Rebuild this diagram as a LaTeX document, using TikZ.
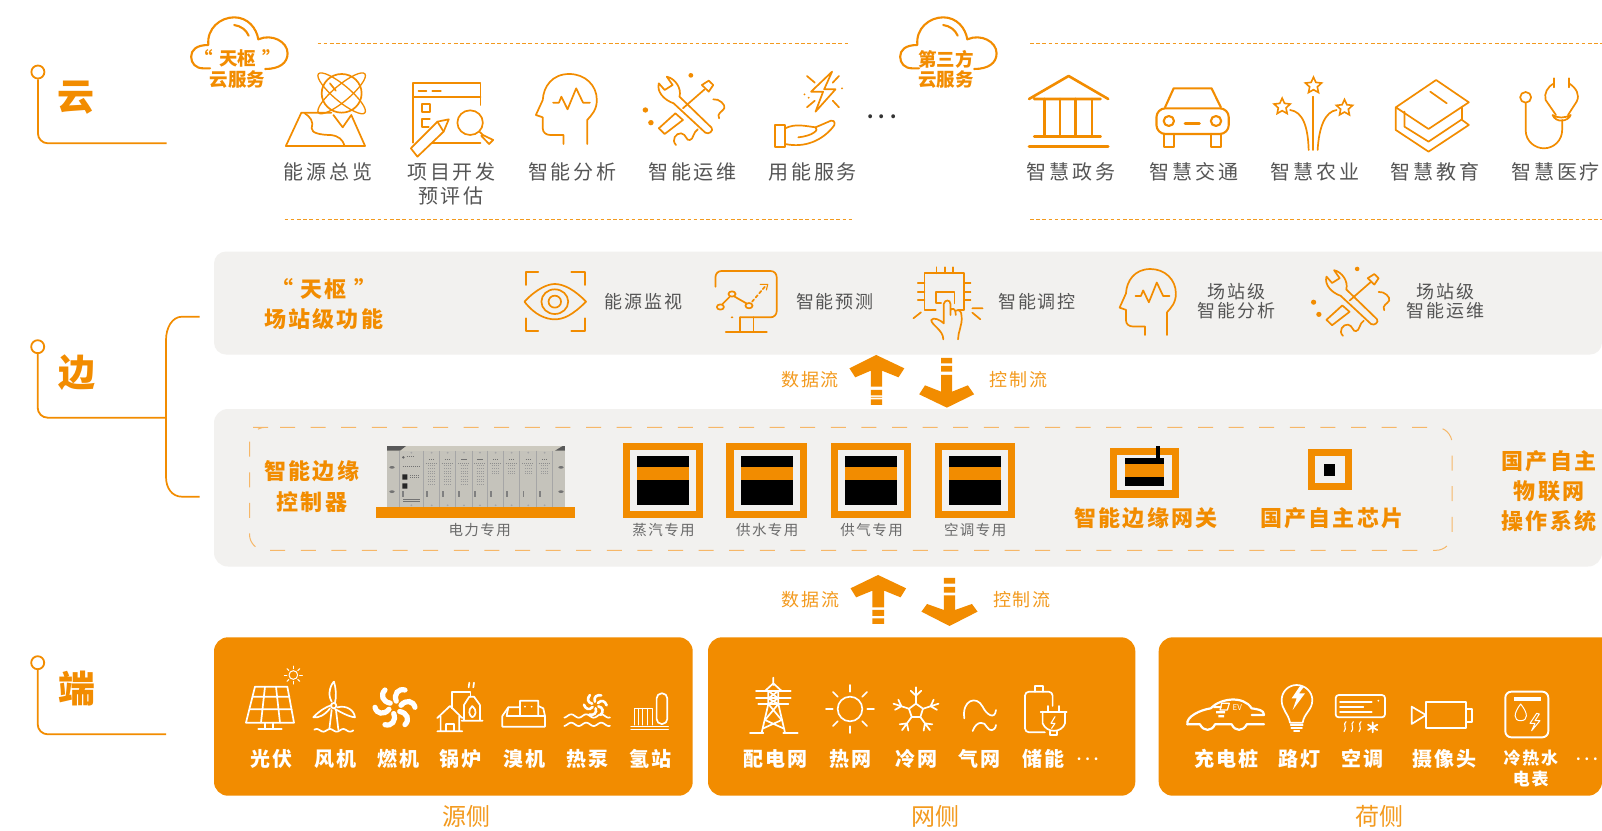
\documentclass[tikz,border=0pt]{standalone}
\usepackage{fontspec}
\usetikzlibrary{shapes.geometric}
\setmainfont{Noto Sans CJK SC}
\newfontfamily\cn[LetterSpace=14]{Noto Sans CJK SC}
\newfontfamily\cnw[LetterSpace=10]{Noto Sans CJK SC}
\newfontfamily\cnd[LetterSpace=30]{Noto Sans CJK SC}
\newfontfamily\cnt{Noto Sans CJK SC}
\definecolor{or}{HTML}{F28C00}
\definecolor{orl}{HTML}{F39A1E}
\definecolor{pan}{HTML}{F2F1EF}
\definecolor{gt}{HTML}{555555}
\definecolor{gs}{HTML}{6A6A6A}
\definecolor{dsh}{HTML}{F6B768}
\definecolor{devb}{HTML}{C5C3BB}
\definecolor{devt}{HTML}{CDCABF}
\tikzset{
 zm/.style n args={4}{shift={(#1pt,-#2pt)},x=#3pt,y=-#4pt},
 ic/.style={draw=or,line width=1.7pt,line cap=round,line join=round},
 icc/.style={draw=or,line width=2.1pt,line cap=round,line join=round},
 icb/.style={draw=or,line width=2.6pt,line cap=round,line join=round},
 icw/.style={draw=white,line width=1.7pt,line cap=round,line join=round},
 txt/.style={inner sep=0pt,align=center},
 trim14/.style={execute at end node={\kern-.14em}},
 trim10/.style={execute at end node={\kern-.10em}},
 lab/.style={txt,trim14,text=gt,font=\cn\fontsize{20}{20}\selectfont},
 lab2/.style={txt,trim10,text=gt,font=\cnw\fontsize{18}{18}\selectfont},
 lab3/.style={txt,trim10,text=gs,font=\cnw\fontsize{14.5}{14.5}\selectfont},
 flow/.style={txt,trim10,text=orl,font=\cnw\fontsize{18}{18}\selectfont},
 head/.style={txt,trim10,text=or,font=\cnw\bfseries\fontsize{22}{22}\selectfont},
 cl/.style={txt,text=or,font=\cnt\bfseries\fontsize{18.5}{19}\selectfont},
 tier/.style={txt,text=or,font=\cnt\bfseries\fontsize{37}{37}\selectfont},
 wl/.style={txt,trim10,text=white,font=\cnw\bfseries\fontsize{20}{20}\selectfont},
 wls/.style={txt,trim10,text=white,font=\cnw\bfseries\fontsize{17}{17}\selectfont},
 side/.style={txt,text=orl,font=\cnt\fontsize{24}{24}\selectfont},
 dots/.style={txt,text=white,font=\cnd\bfseries\fontsize{13}{13}\selectfont,execute at end node={\kern-.3em}},
 dotsk/.style={txt,text=black!80,font=\cnd\bfseries\fontsize{18}{18}\selectfont,execute at end node={\kern-.3em}},
 dot/.style={circle,draw=or,line width=1.8pt,minimum size=13pt,inner sep=0pt},
 tline/.style={draw=or,line width=1.8pt,rounded corners=10pt},
 toprule/.style={draw=orl,line width=1pt,dash pattern=on 3.6pt off 2.6pt},
 starn/.style={star,star points=5,star point ratio=2.1,draw=or,line width=1.6pt,minimum size=17pt,inner sep=0pt}
}
\newcommand{\cloudicon}{%
 \draw[icc] (610,205) -- (590,205) .. controls (568,205) and (555,190) .. (555,170) .. controls (555,150) and (570,135) .. (605,135) .. controls (600,85) and (640,52) .. (680,52) .. controls (720,52) and (745,85) .. (750,118) .. controls (790,100) and (835,125) .. (835,160) .. controls (835,190) and (810,207) .. (770,207);
 \draw[icc] (680,75) .. controls (700,78) and (715,90) .. (722,107);
}
\newcommand{\headicon}{%
 \draw[ic] (137,432) -- (137,360) .. controls (150,345) and (165,330) .. (165,300) .. controls (165,255) and (130,222) .. (85,222) .. controls (35,222) and (10,260) .. (8,300) -- (-12,345) -- (8,352) -- (8,385) .. controls (8,398) and (18,405) .. (30,405) -- (68,405) -- (68,432);
 \draw[ic] (38,308) -- (55,308) -- (62,290) -- (80,328) -- (105,265) -- (125,308) -- (145,308);
}
\newcommand{\wrenchicon}{%
 \draw[ic] (388,310) -- (480,398) .. controls (490,405) and (505,392) .. (498,383) -- (405,290) .. controls (412,265) and (392,235) .. (368,230) -- (385,255) -- (362,270) -- (345,250) .. controls (338,275) and (360,300) .. (388,310);
 \draw[ic] (470,255) -- (490,242) -- (503,255) -- (490,275) -- cycle;
 \draw[ic] (478,268) -- (415,325);
 \draw[ic] (345,385) -- (393,340) -- (415,360) -- (362,402) -- cycle;
 \fill[or] (438,226) circle [radius=7] (306,330) circle [radius=8] (322,368) circle [radius=8];
 \draw[ic] (503,298) .. controls (520,295) and (540,315) .. (535,325) .. controls (530,335) and (512,340) .. (520,355);
 \draw[ic] (395,435) .. controls (380,420) and (395,398) .. (410,400) .. controls (425,402) and (425,425) .. (435,420) .. controls (445,420) and (445,395) .. (458,388);
}
\begin{document}
\begin{tikzpicture}[x=1pt,y=-1pt]
\useasboundingbox (0,0) rectangle (1602,830);
\fill[white] (0,0) rectangle (1602,830);
% panels
\fill[pan,rounded corners=12pt] (1602,251.5) -- (214,251.5) -- (214,354.5) -- (1602,354.5) [sharp corners] -- cycle;
\fill[pan,rounded corners=14pt] (1602,409) -- (214,409) -- (214,566.5) -- (1602,566.5) [sharp corners] -- cycle;
\fill[or,rounded corners=14pt] (214,637.3) rectangle (692.7,795.7);
\fill[or,rounded corners=14pt] (708,637.3) rectangle (1135.3,795.7);
\fill[or,rounded corners=14pt] (1602,637.3) -- (1158.7,637.3) -- (1158.7,795.7) -- (1602,795.7) [sharp corners] -- cycle;
% dashed rules
\draw[toprule] (317.5,43.4) -- (850,43.4);
\draw[toprule] (284.5,219.7) -- (853,219.7);
\draw[toprule] (1030,43.4) -- (1602,43.4);
\draw[toprule] (1030,219.7) -- (1602,219.7);
% dashed rounded frame
\draw[dsh,line width=1pt,dash pattern=on 15pt off 15.6pt,rounded corners=16pt] (264,427.3) -- (1452,427.3) -- (1452,550.3) -- (249.5,550.3) -- (249.5,427.3) -- cycle;
% tier markers
\node[dot] (dotyun) at (37.9,72) {};
\draw[tline] (dotyun.south) -- (37.9,143.3) -- (166.7,143.3);
\node[tier] (tyun) at (76.4,98) {云};
\node[dot] (dotbian) at (37.7,346.7) {};
\draw[tline] (dotbian.south) -- (37.7,417.7) -- (166,417.7);
\node[tier] (tbian) at (76.7,372.7) {边};
\node[dot] (dotduan) at (37.7,662.7) {};
\draw[tline] (dotduan.south) -- (37.7,734.3) -- (166,734.3);
\node[tier] (tduan) at (76.7,689) {端};
\draw[ic,line cap=butt] (199.5,316.7) -- (182,316.7) .. controls (172,316.7) and (166,328) .. (166,340) -- (166,477) .. controls (166,488) and (172,496.7) .. (182,496.7) -- (199.5,496.7);
% ---- Z1
\begin{scope}[zm={0}{0}{.3444}{.3333}]
 \cloudicon
 \node[cl] (c1a) at (690,176) {“\,\,天枢\,\,”};
 \node[cl] (c1b) at (690,240) {云服务};
 % map
 \draw[ic] (962,338) -- (875,338) -- (830,438) -- (1060,438) -- (1020,345) -- (995,382) -- (968,345);
 \draw[ic] (885,340) .. controls (900,350) and (912,365) .. (905,385) .. controls (903,400) and (935,405) .. (960,405) .. controls (985,408) and (995,420) .. (1000,436);
 \draw[ic] (992,280) circle [radius=58];
 \draw[ic,line width=1.3pt,rotate around={40:(992,280)}] (992,280) ellipse [x radius=88,y radius=24];
 \draw[ic,line width=1.3pt,rotate around={-40:(992,280)}] (992,280) ellipse [x radius=88,y radius=24];
 \draw[ic] (958,250) -- (975,272);
 \node[lab] (l1) at (948,517) {能源总览};
 % project
 \draw[ic] (1395,315) -- (1395,250) -- (1200,250) -- (1200,428);
 \draw[ic] (1200,292) -- (1395,292) (1255,428) -- (1395,428);
 \draw[ic] (1215,272) -- (1238,272) (1255,272) -- (1280,272);
 \draw[ic] (1225,312) rectangle (1248,335);
 \draw[ic] (1248,358) -- (1225,358) -- (1225,380) -- (1245,380);
 \draw[ic] (1365,368) circle [radius=37];
 \draw[ic] (1392,395) -- (1402,405) -- (1432,420) -- (1420,432) -- (1397,407);
 \draw[ic] (1303,358) -- (1270,365) -- (1193,445) -- (1212,470) -- (1288,395) -- cycle;
 \draw[ic] (1270,365) -- (1288,395);
 \node[lab] (l2a) at (1307,517) {项目开发};
 \node[lab] (l2b) at (1305,587) {预评估};
\end{scope}
% ---- Z2
\begin{scope}[zm={540}{0}{.3444}{.3333}]
 \headicon
 \node[lab] (l3) at (90,517) {智能分析};
 \wrenchicon
 \node[lab] (l4) at (439,517) {智能运维};
 \draw[ic] (848,215) -- (787,275) -- (822,275) -- (800,335) -- (858,268) -- (825,268) -- cycle;
 \draw[ic] (775,228) -- (798,248) (868,228) -- (850,248) (775,322) -- (798,302) (868,322) -- (850,302);
 \fill[or] (877,265) circle [radius=3] (768,283) circle [radius=3] (780,293) circle [radius=3];
 \draw[ic] (682,375) rectangle (712,440);
 \draw[ic] (712,385) .. controls (740,370) and (770,378) .. (800,382) .. controls (812,390) and (790,408) .. (750,412);
 \draw[ic] (800,382) -- (845,362) .. controls (858,360) and (858,375) .. (850,382) .. controls (820,420) and (770,445) .. (712,432);
 \node[lab] (l5) at (788,517) {用能服务};
 \node[dotsk] (more) at (985,350) {...};
\end{scope}
\begin{scope}[zm={709}{0}{.3444}{.3333}]
 \cloudicon
 \node[cl] (c2a) at (688,177) {第三方};
 \node[cl] (c2b) at (688,240) {云服务};
\end{scope}
% ---- Z3
\begin{scope}[zm={1060}{0}{.3444}{.3333}]
 \draw[icb] (-90,297) -- (25,228) -- (140,297) (-75,297) -- (118,297);
 \draw[icb] (-45,297) -- (-45,410) (0,297) -- (0,410) (45,297) -- (45,410) (93,297) -- (93,410);
 \draw[icb] (-75,410) -- (118,410) (-90,440) -- (140,440);
 \node[lab] (l6) at (28,517) {智慧政务};
 % car
 \draw[icc] (305,322) -- (330,265) -- (440,265) -- (467,322);
 \draw[icc,rounded corners=9pt] (280,325) rectangle (490,402);
 \draw[icc] (303,402) -- (303,440) -- (332,440) -- (332,402) (438,402) -- (438,440) -- (468,440) -- (468,402);
 \draw[icc] (316,363) circle [radius=15] (453,363) circle [radius=15];
 \draw[icb] (363,370) -- (405,370);
 \node[lab] (l7) at (385,517) {智慧交通};
 % fireworks
 \node[starn] (s1) at (736,257) {};
 \node[starn] (s2) at (645,320) {};
 \node[starn] (s3) at (826,324) {};
 \draw[ic] (735,290) -- (735,450);
 \draw[ic] (722,450) .. controls (720,380) and (705,335) .. (668,330);
 \draw[ic] (748,450) .. controls (752,380) and (770,335) .. (803,330);
 \node[lab] (l8) at (736,517) {智慧农业};
 % book
 \draw[ic] (975,322) -- (1092,240) -- (1187,307) -- (1070,387) -- cycle;
 \draw[ic] (975,322) -- (975,390) -- (1070,455) -- (1187,375) -- (1165,358);
 \draw[ic] (1000,335) -- (1000,380) -- (1070,425) -- (1167,358) -- (1167,322);
 \draw[ic] (1075,275) -- (1123,310);
 \node[lab] (l9) at (1085,517) {智慧教育};
 % stethoscope
 \draw[ic] (1352,292) circle [radius=16];
 \draw[ic] (1352,310) -- (1352,390) .. controls (1352,425) and (1380,445) .. (1405,445) .. controls (1435,445) and (1458,420) .. (1458,390) -- (1458,360);
 \draw[ic] (1435,235) -- (1435,262) (1478,235) -- (1478,262);
 \draw[ic] (1435,250) .. controls (1415,260) and (1405,280) .. (1410,300) -- (1440,345);
 \draw[ic] (1478,250) .. controls (1500,265) and (1510,285) .. (1500,305) -- (1475,345);
 \draw[ic] (1430,345) .. controls (1440,370) and (1475,365) .. (1483,345) .. controls (1465,355) and (1445,355) .. (1430,345);
 \node[lab] (l10) at (1435,517) {智慧医疗};
\end{scope}
% ---- Z4
\begin{scope}[zm={220}{240}{.4464}{.3333}]
 \node[head] (h1a) at (230,148) {“\,\,天枢\,\,”};
 \node[head] (h1b) at (230,238) {场站级功能};
 % eye
 \draw[ic] (685,135) -- (685,97) -- (713,97) (787,97) -- (817,97) -- (817,135) (685,235) -- (685,273) -- (713,273) (787,273) -- (817,273) -- (817,235);
 \draw[ic] (682,185) .. controls (710,145) and (735,132) .. (750,132) .. controls (770,132) and (795,150) .. (820,185) .. controls (790,225) and (770,238) .. (750,238) .. controls (730,238) and (705,225) .. (682,185) -- cycle;
 \draw[ic] (750,185) ellipse [x radius=30,y radius=37];
 \draw[ic] (750,185) ellipse [x radius=14,y radius=18];
 \node[lab2] (e1) at (947,185) {能源监视};
 % monitor
 \draw[ic,rounded corners=6pt] (1110,140) -- (1110,93) -- (1247,93) -- (1247,232) -- (1165,232);
 \draw[ic] (1165,232) -- (1165,275) (1195,232) -- (1195,275) (1133,275) -- (1225,275);
 \fill[or] (1147,232) circle [radius=3];
 \draw[ic] (1121,201) circle [radius=8] (1147,162) circle [radius=8] (1185,197) circle [radius=8];
 \draw[ic] (1125,193) -- (1142,170) (1153,170) -- (1179,190);
 \draw[ic,dash pattern=on 3pt off 2.5pt] (1192,185) -- (1222,138);
 \draw[ic,line width=1.1pt] (1210,133) -- (1227,133) -- (1224,150);
 \node[lab2] (e2) at (1375,185) {智能预测};
 % flows
 \fill[or] (1470,345) -- (1533,385) -- (1520,412) -- (1483,392) -- (1483,440) -- (1458,440) -- (1458,392) -- (1423,412) -- (1410,385) -- cycle;
 \fill[or] (1458,450) rectangle (1483,466) (1458,471) rectangle (1483,473) (1458,478) rectangle (1483,495);
 \node[flow] (f1) at (1320,420) {数据流};
\end{scope}
% ---- Z5
\begin{scope}[zm={900}{240}{.4464}{.3333}]
 % chip + hand
 \draw[ic] (80,210) -- (55,210) -- (55,100) -- (143,100) -- (143,210) -- (130,210);
 \draw[ic] (82,82) -- (82,100) (100,82) -- (100,100) (118,82) -- (118,100);
 \draw[ic] (40,130) -- (55,130) (40,155) -- (55,155) (40,180) -- (55,180) (143,130) -- (158,130) (143,155) -- (158,155) (143,180) -- (158,180);
 \draw[ic] (92,190) -- (80,190) -- (80,155) -- (122,155) -- (122,190);
 \draw[ic] (97,298) .. controls (97,270) and (70,255) .. (70,240) .. controls (75,230) and (90,240) .. (98,250) -- (98,192) .. controls (100,178) and (113,178) .. (113,192) -- (113,225) (113,210) .. controls (118,203) and (125,205) .. (125,225) (125,212) .. controls (132,208) and (138,212) .. (138,230) .. controls (140,255) and (130,275) .. (130,298);
 \draw[ic] (30,235) -- (47,217) (180,238) -- (162,218) (162,205) -- (185,205);
 \node[lab2] (e3) at (305,185) {智能调控};
 \node[lab2] (e4a) at (752,155) {场站级};
 \node[lab2] (e4b) at (752,213) {智能分析};
 \node[lab2] (e5a) at (1220,155) {场站级};
 \node[lab2] (e5b) at (1220,213) {智能运维};
 % flows
 \fill[or] (92,354) rectangle (117,370) (92,378) rectangle (117,395);
 \fill[or] (92,405) -- (117,405) -- (117,455) -- (152,436) -- (166,463) -- (105,503) -- (43,463) -- (56,436) -- (92,455) -- cycle;
 \node[flow] (f2) at (263,420) {控制流};
\end{scope}
\begin{scope}[zm={1212.6}{196.6}{.33}{.32}]
 \wrenchicon
\end{scope}
\begin{scope}[zm={1123.4}{199.3}{.318}{.314}]
 \headicon
\end{scope}
% ---- Z6
\begin{scope}[zm={220}{400}{.3827}{.3333}]
 \node[head] (h2a) at (237,215) {智能边缘};
 \node[head] (h2b) at (237,307) {控制器};
 \fill[or] (1052,128) rectangle (1262,354);
 \fill[pan] (1070,150) rectangle (1243,332);
 \fill[black] (1090,168) rectangle (1226,315);
 \fill[or] (1090,201) rectangle (1226,240);
 \fill[or] (1323,128) rectangle (1534,354);
 \fill[pan] (1342,150) rectangle (1516,332);
 \fill[black] (1362,168) rectangle (1497,315);
 \fill[or] (1362,201) rectangle (1497,240);
 \node[lab3] (u2) at (1157,390) {蒸汽专用};
 \node[lab3] (u3) at (1428,390) {供水专用};
\end{scope}
% ---- Z7
\begin{scope}[zm={800}{400}{.5102}{.3333}]
 \fill[or] (60,128) rectangle (218,354);
 \fill[pan] (74,150) rectangle (204,332);
 \fill[black] (88,168) rectangle (190,315);
 \fill[or] (88,201) rectangle (190,240);
 \fill[or] (264,128) rectangle (421,354);
 \fill[pan] (278,150) rectangle (407,332);
 \fill[black] (292,168) rectangle (394,315);
 \fill[or] (292,201) rectangle (394,240);
 \node[lab3] (u4) at (139,390) {供气专用};
 \node[lab3] (u5) at (342,390) {空调专用};
 \fill[or] (608,143) rectangle (743,293);
 \fill[pan] (622,165) rectangle (729,271);
 \fill[black] (637,174) rectangle (714,258);
 \fill[or] (637,192) rectangle (714,231);
 \fill[black] (698,138) rectangle (706,174);
 \node[head] (g1) at (676,355) {智能边缘网关};
 \fill[or] (996,148) rectangle (1082,271);
 \fill[pan] (1010,169) rectangle (1068,249);
 \fill[black] (1027,192) rectangle (1049,228);
 \node[head] (g2) at (1040,355) {国产自主芯片};
 \node[head] (os1) at (1466,185) {国产自主};
 \node[head] (os2) at (1466,273) {物联网};
 \node[head] (os3) at (1466,362) {操作系统};
 % flows
 \fill[or] (153,525) -- (208,565) -- (197,592) -- (165,572) -- (165,622) -- (142,622) -- (142,572) -- (110,592) -- (99,565) -- cycle;
 \fill[or] (142,630) rectangle (165,648) (142,655) rectangle (165,672);
 \fill[or] (282,534) rectangle (304,551) (282,561) rectangle (304,578);
 \fill[or] (282,586) -- (304,586) -- (304,630) -- (337,612) -- (348,635) -- (293,678) -- (238,635) -- (249,612) -- (282,630) -- cycle;
 \node[flow] (f4) at (433,600) {控制流};
 \node[flow] (f3) at (19,600) {数据流};
\end{scope}
% ---- device, Z11
\begin{scope}[zm={370}{430}{.3333}{.3333}]
 \fill[or] (18,232) rectangle (615,264);
 \fill[devb] (51,48) rectangle (585,232);
 \fill[devt] (51,48) rectangle (585,62);
 \fill[black!65] (51,48) -- (108,48) -- (90,62) -- (51,62) -- cycle;
 \fill[black!65] (555,62) -- (578,48) -- (585,48) -- (585,62) -- cycle;
 \foreach \xx in {88,160,209,257,306,353,401,449,500,548}
   \draw[black!35,line width=.8pt] (\xx,62) -- (\xx,232);
 \foreach \xx in {124,185,233,282,330,377,425,475,524}{
   \fill[black!35] (\xx,68) circle [radius=3] (\xx,226) circle [radius=3];
 }
 \foreach \xx in {185,233,282,330,377,425,475,524}{
   \draw[black!55,line width=.9pt,dash pattern=on 1.2pt off .8pt] (\xx-8,87) -- (\xx+8,87);
   \draw[black!45,line width=.7pt,dash pattern=on 1pt off 1pt] (\xx-18,100) -- (\xx+18,100);
   \fill[black!50] (\xx-17,184) rectangle (\xx-12,200);
 }
 \foreach \xx/\yend in {185/168,233/168,282/168,330/168,377/138,425/138,475/138,524/138}{
   \foreach \yy in {107,115,...,\yend}
     \draw[black!40,line width=.7pt,dash pattern=on 1pt off 1pt] (\xx-10,\yy) -- (\xx+12,\yy);
 }
 \fill[black!55] (66,112) ellipse [x radius=8,y radius=4] (66,185) ellipse [x radius=8,y radius=4] (573,112) ellipse [x radius=8,y radius=4] (573,185) ellipse [x radius=8,y radius=4];
 \fill[black!85] (97,133) rectangle (112,149) (97,160) rectangle (112,176);
 \fill[black!50] (96,184) rectangle (102,200);
 \draw[black!55,line width=.9pt,dash pattern=on 1.2pt off .8pt] (98,110) -- (150,110) (120,135) -- (150,135) (120,142) -- (150,142) (100,207) -- (150,207) (100,214) -- (150,214);
 \fill[black!60] (100,82) circle [radius=4];
 \draw[black!55,line width=.9pt,dash pattern=on 1.2pt off .8pt] (110,80) -- (130,80);
 \node[lab3] (u1) at (327,300) {电力专用};
\end{scope}
% ---- Z8
\begin{scope}[zm={200}{630}{.3333}{.3333}]
 \draw[icw] (165,170) -- (262,170) -- (282,278) -- (138,278) -- cycle;
 \draw[icw] (158,200) -- (268,200) (150,238) -- (275,238) (195,170) -- (183,278) (228,170) -- (240,278);
 \draw[icw] (195,278) -- (195,297) (220,278) -- (220,297) (175,297) -- (245,297);
 \draw[icw,line width=1pt] (280,135) circle [radius=13];
 \foreach \a in {0,45,...,315} \draw[icw,line width=1pt] (280,135) ++(\a:19) -- ++(\a:8);
 \draw[icw] (395,240) -- (388,298) (408,240) -- (415,298);
 \draw[icw] (401,227) circle [radius=8];
 \draw[icw] (395,215) .. controls (380,190) and (395,160) .. (402,155) .. controls (408,175) and (410,200) .. (405,218);
 \draw[icw] (412,232) .. controls (440,225) and (462,240) .. (465,262) .. controls (445,260) and (420,245) .. (405,237);
 \draw[icw] (390,235) .. controls (375,255) and (355,265) .. (340,262) .. controls (355,245) and (375,232) .. (395,225);
 \draw[icw] plot[domain=343:460,samples=40] (\x,{301+4*sin(9*\x)});
 \foreach \a in {0,60,...,300}
   \draw[white,line width=5.2pt,line cap=round,rotate around={\a:(585,232)}] (603,226) .. controls (618,208) and (640,212) .. (645,232);
 \draw[icw] (712,264) -- (750,228) -- (787,264) (722,258) -- (722,304) (778,258) -- (778,304) (712,304) -- (787,304) (738,304) -- (738,282) -- (762,282) -- (762,304);
 \draw[icw] (757,235) -- (757,187) -- (812,187) -- (812,200);
 \draw[icw] (792,272) -- (792,225) -- (808,200) -- (822,200) -- (840,225) -- (840,272) (785,272) -- (848,272);
 \draw[icw] (817,228) .. controls (802,240) and (808,258) .. (817,262) .. controls (828,258) and (832,240) .. (817,228);
 \draw[icw] (808,158) -- (806,172) (822,158) -- (820,172);
 \draw[icw] (907,290) -- (907,258) -- (925,232) -- (960,232) -- (960,212) -- (1015,212) -- (1015,228) -- (1030,235) -- (1035,258) -- (1035,290) -- cycle;
 \draw[icw] (925,232) -- (920,258) -- (1035,258) (960,232) -- (960,255) (1015,228) -- (1015,255);
 \fill[white] (975,230) circle [radius=3] (995,230) circle [radius=3];
 \foreach \a in {0,60,...,300}
   \draw[white,line width=2.6pt,line cap=round,rotate around={\a:(1186,225)}] (1194,219) .. controls (1204,208) and (1216,213) .. (1220,226);
 \draw[icw] plot[domain=1093:1230,samples=60] (\x,{258+5*sin(8*\x)});
 \draw[icw] plot[domain=1093:1230,samples=60] (\x,{283+5*sin(8*\x)});
 \draw[icw,rounded corners=5pt] (1370,282) -- (1370,190) -- (1402,190) -- (1402,282) -- cycle;
 \draw[icw,line width=1pt] (1303,285) -- (1303,235) -- (1357,235) -- (1357,285) (1315,235) -- (1315,285) (1328,235) -- (1328,285) (1342,235) -- (1342,285);
 \draw[icw,line width=1pt] (1293,288) -- (1405,288) (1293,297) -- (1405,297);
 \node[wl] (w1) at (212,387) {光伏};
 \node[wl] (w2) at (403,387) {风机};
 \node[wl] (w3) at (592,387) {燃机};
 \node[wl] (w4) at (780,387) {锅炉};
 \node[wl] (w5) at (971,387) {溴机};
 \node[wl] (w6) at (1160,387) {热泵};
 \node[wl] (w7) at (1348,387) {氢站};
 \node[side] (sd1) at (800,558) {源侧};
\end{scope}
% ---- Z9
\begin{scope}[zm={700}{630}{.3333}{.3333}]
 \draw[icw] (220,143) -- (220,165) (195,183) -- (220,160) -- (245,183);
 \draw[icw] (168,183) -- (272,183) (168,205) -- (272,205) (175,222) -- (265,222);
 \draw[icw] (205,183) -- (205,222) -- (185,308) (235,183) -- (235,222) -- (255,308);
 \draw[icw] (205,183) -- (235,205) (235,183) -- (205,205) (205,205) -- (235,222) (235,205) -- (205,222) (205,222) -- (245,270) -- (190,295) (235,222) -- (195,270) -- (250,295);
 \draw[icw] (150,310) -- (190,310) (250,310) -- (293,310);
 \draw[icw] (450,237) circle [radius=37];
 \foreach \a in {0,45,...,315} \draw[icw] (450,237) ++(\a:52) -- ++(\a:20);
 \foreach \a in {0,72,...,288}{
   \draw[icw,rotate around={\a:(648,243)}] (648,221) -- (669,236) (648,221) -- (648,172) (648,197) -- (632,182) (648,197) -- (664,182);
 }
 \draw[icw] (793,265) .. controls (785,210) and (830,195) .. (848,230) .. controls (860,255) and (885,270) .. (888,240);
 \draw[icw] (818,303) .. controls (830,270) and (855,275) .. (860,290) .. controls (868,305) and (885,305) .. (888,285);
 \draw[icw,rounded corners=4pt] (1035,307) -- (975,307) -- (975,185) -- (1058,185) -- (1058,228);
 \draw[icw] (1005,185) -- (1005,168) -- (1030,168) -- (1030,185);
 \draw[icw] (1022,245) -- (1100,245) (1045,228) -- (1045,245) (1078,228) -- (1078,245);
 \draw[icw] (1028,245) -- (1028,280) .. controls (1040,310) and (1085,310) .. (1095,280) -- (1095,245);
 \draw[icw] (1050,305) -- (1050,315) -- (1072,315) -- (1072,305);
 \draw[icw,line width=1.1pt] (1065,260) -- (1053,280) -- (1065,280) -- (1055,295);
 \node[wl] (n1) at (222,387) {配电网};
 \node[wl] (n2) at (450,387) {热网};
 \node[wl] (n3) at (648,387) {冷网};
 \node[wl] (n4) at (837,387) {气网};
 \node[wl] (n5) at (1027,387) {储能};
 \node[dots] (n6) at (1157,388) {...};
 \node[side] (sd2) at (707,558) {网侧};
\end{scope}
% ---- Z10
\begin{scope}[zm={1150}{630}{.3333}{.3333}]
 \draw[white,line width=2.2pt,line cap=round,line join=round] (112,283) .. controls (108,260) and (150,240) .. (182,235) .. controls (210,205) and (280,195) .. (305,235) .. controls (325,238) and (342,240) .. (342,255) -- (305,255);
 \draw[white,line width=2.2pt,line cap=round,line join=round] (112,283) -- (150,283) .. controls (160,305) and (185,305) .. (195,283) -- (245,283) .. controls (255,305) and (280,305) .. (290,283) -- (342,283);
 \draw[icw,line width=1.2pt] (215,220) -- (238,220) -- (232,240) -- (210,240) -- cycle;
 \fill[white] (190,228) rectangle (215,234) (198,243) rectangle (225,250) (205,255) rectangle (222,262);
 \node[txt,text=white,font=\cnt\itshape\fontsize{8}{8}\selectfont] (ev) at (262,233) {EV};
 \draw[icw] (420,278) .. controls (415,250) and (395,240) .. (395,210) .. controls (395,185) and (415,165) .. (440,165) .. controls (465,165) and (487,185) .. (487,210) .. controls (487,240) and (462,250) .. (458,278) -- cycle;
 \fill[white] (450,168) -- (425,205) -- (440,205) -- (428,240) -- (465,190) -- (447,190) -- (462,170) -- cycle;
 \draw[icw] (422,285) -- (458,285) (424,293) -- (456,293) (432,302) -- (448,302);
 \draw[icw,rounded corners=3pt] (557,195) rectangle (705,262);
 \draw[icw] (570,215) -- (665,215) (570,230) -- (640,230) (570,245) -- (665,245);
 \fill[white] (685,212) circle [radius=3];
 \foreach \xx in {585,607,630}
   \draw[icw,line width=1.1pt] (\xx+3,275) .. controls (\xx-8,282) and (\xx+8,295) .. (\xx-3,305);
 \draw[icw] (668,277) -- (668,307) (654,284) -- (682,300) (654,300) -- (682,284);
 \draw[icw] (785,230) -- (828,255) -- (785,282) -- cycle;
 \draw[icw] (828,217) rectangle (948,294);
 \draw[icw] (948,237) rectangle (967,275);
 \draw[icw,line width=1.9pt,rounded corners=6pt] (1066,185) rectangle (1195,322);
 \fill[white] (1092,200) rectangle (1173,212);
 \draw[icw,line width=1pt] (1112,222) .. controls (1090,250) and (1090,272) .. (1112,272) .. controls (1135,272) and (1135,250) .. (1112,222) -- cycle;
 \draw[icw,line width=1pt] (1160,250) -- (1140,280) -- (1155,280) -- (1145,302) -- (1170,272) -- (1155,272) -- (1168,252) -- cycle;
 \node[wl] (m1) at (227,387) {充电桩};
 \node[wl] (m2) at (446,387) {路灯};
 \node[wl] (m3) at (634,387) {空调};
 \node[wl] (m4) at (880,387) {摄像头};
 \node[wls] (m5a) at (1140,385) {冷热水};
 \node[wls] (m5b) at (1140,448) {电表};
 \node[dots] (m6) at (1305,388) {...};
 \node[side] (sd3) at (690,558) {荷侧};
\end{scope}
\end{tikzpicture}
\end{document}
